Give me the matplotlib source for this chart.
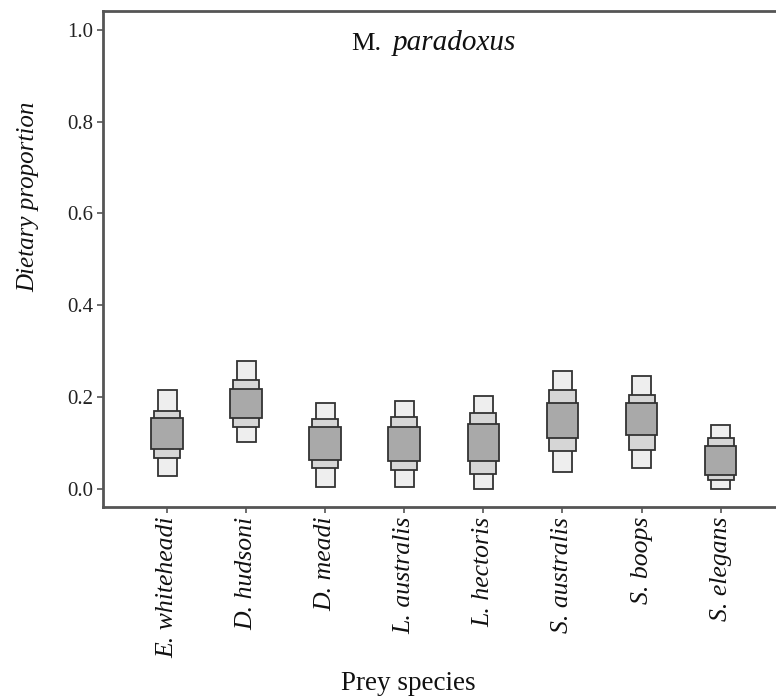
import matplotlib
matplotlib.use("Agg")
import matplotlib.pyplot as plt
import numpy as np

categories = ["E. whiteheadi", "D. hudsoni", "D. meadi", "L. australis",
              "L. hectoris", "S. australis", "S. boops", "S. elegans"]
lo95 = [0.028, 0.101, 0.004, 0.003, 0.000, 0.036, 0.044, 0.000]
hi95 = [0.214, 0.278, 0.186, 0.190, 0.203, 0.256, 0.245, 0.138]
lo75 = [0.066, 0.135, 0.044, 0.041, 0.032, 0.081, 0.085, 0.019]
hi75 = [0.170, 0.237, 0.152, 0.157, 0.164, 0.216, 0.205, 0.110]
lo50 = [0.087, 0.154, 0.063, 0.060, 0.060, 0.110, 0.116, 0.030]
hi50 = [0.153, 0.218, 0.134, 0.134, 0.141, 0.187, 0.187, 0.092]
yticks = [0.0, 0.2, 0.4, 0.6, 0.8, 1.0]
ytick_labels = ["0.0", "0.2", "0.4", "0.6", "0.8", "1.0"]

plt.rcParams['font.family'] = ['Liberation Serif', 'DejaVu Serif']

W, H = 776, 696
fig = plt.figure(figsize=(W / 100, H / 100), dpi=100)
ax = fig.add_axes([103 / W, (H - 507) / H, (W - 103) / W, (507 - 11) / H])

x = np.arange(len(categories))
lo95a, hi95a = np.array(lo95), np.array(hi95)
lo75a, hi75a = np.array(lo75), np.array(hi75)
lo50a, hi50a = np.array(lo50), np.array(hi50)
edge = "#333333"
ax.bar(x, hi95a - lo95a, bottom=lo95a, width=0.24, color="#eeeeee",
       edgecolor=edge, linewidth=1.3, zorder=2)
ax.bar(x, hi75a - lo75a, bottom=lo75a, width=0.33, color="#d6d6d6",
       edgecolor=edge, linewidth=1.3, zorder=3)
ax.bar(x, hi50a - lo50a, bottom=lo50a, width=0.40, color="#a9a9a9",
       edgecolor=edge, linewidth=1.3, zorder=4)

ax.set_xlim(-0.81, 7.70)
ax.set_ylim(-0.040, 1.041)
ax.set_yticks(yticks)
ax.set_yticklabels(ytick_labels, fontsize=15, color="#222222")
ax.set_xticks(x)
ax.set_xticklabels(categories, rotation=90, fontsize=18.5, style="italic",
                   color="#111111")
ax.tick_params(axis="both", direction="out", length=4, width=1.2,
               color="#555555", pad=3)

for s in ["left", "bottom", "top"]:
    ax.spines[s].set_color("#555555")
    ax.spines[s].set_linewidth(2.0)
ax.spines["right"].set_visible(False)

fig.text(28 / W, 1 - 197 / H, "Dietary proportion", rotation=90,
         ha="center", va="center", fontsize=18, style="italic", color="#111111")
fig.text(408 / W, 1 - 683 / H, "Prey species", ha="center", va="center",
         fontsize=19.5, color="#111111")
fig.text(351 / W, 1 - 50 / H, "M.", ha="left", va="baseline",
         fontsize=19, color="#111111")
fig.text(393 / W, 1 - 50 / H, "paradoxus", ha="left", va="baseline",
         fontsize=21, style="italic", color="#111111")

fig.savefig("out.png", dpi=100)
